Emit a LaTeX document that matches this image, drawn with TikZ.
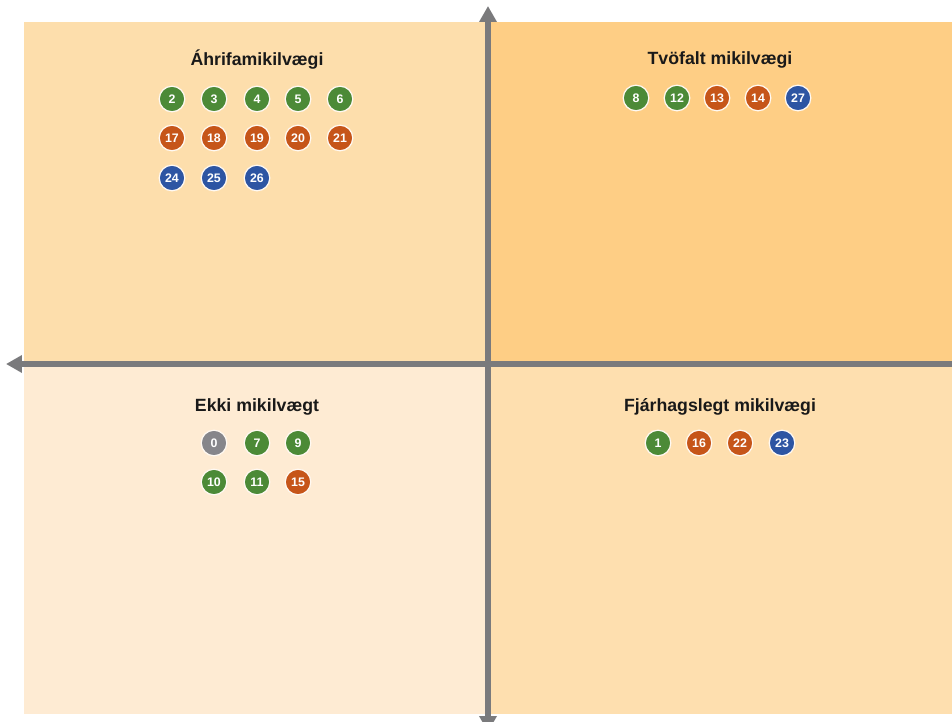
\documentclass[tikz,border=0pt]{standalone}
\usepackage{fontspec}
\setmainfont{Liberation Sans}
\usepackage{tikz}
\usetikzlibrary{arrows.meta, positioning}
\usepackage{xcolor}

\definecolor{qtl}{HTML}{FDDEAC}
\definecolor{qtr}{HTML}{FECE85}
\definecolor{qbl}{HTML}{FEEBD3}
\definecolor{qbr}{HTML}{FEDFAF}
\definecolor{dgreen}{HTML}{4C8A37}
\definecolor{dorange}{HTML}{C65519}
\definecolor{dblue}{HTML}{2D55A3}
\definecolor{dgray}{HTML}{86868B}
\definecolor{axisgray}{HTML}{7A7A7C}

\begin{document}
\begin{tikzpicture}[
    dot/.style={circle, draw=white!95!orange, line width=0.9pt, minimum size=0.64cm,
                inner sep=0pt, text=white, font=\fontsize{8.8}{10}\selectfont\bfseries},
    gdot/.style={dot, fill=dgreen},
    odot/.style={dot, fill=dorange},
    bdot/.style={dot, fill=dblue},
    ndot/.style={dot, fill=dgray},
    qtitle/.style={font=\fontsize{12.6}{15}\selectfont\bfseries, text=black!90},
    axis/.style={line width=4pt, axisgray},
]
  \useasboundingbox (0,0) rectangle (23.8,-18.05);

  % Quadrant backgrounds
  \fill[qtl] (0.6,-0.55) rectangle (12.15,-9.05);
  \fill[qtr] (12.25,-0.55) rectangle (23.8,-9.05);
  \fill[qbl] (0.6,-9.15) rectangle (12.15,-17.85);
  \fill[qbr] (12.25,-9.15) rectangle (23.8,-17.85);

  % Axes
  \coordinate (top) at (12.2,-0.15);
  \coordinate (bottom) at (12.2,-18.3);
  \coordinate (left) at (0.15,-9.1);
  \coordinate (right) at (23.8,-9.1);
  \draw[axis, {Triangle[length=0.4cm, width=0.42cm]}-{Triangle[length=0.4cm, width=0.42cm]}]
    (bottom) -- (top);
  \draw[axis, {Triangle[length=0.4cm, width=0.42cm]}-] (left) -- (right);

  % Top left
  \node[qtitle] (tlt) at (6.425,-1.5) {Áhrifamikilvægi};
  \node[gdot] (n2)  at (4.3,  -2.475) {2};
  \node[gdot] (n3)  at (5.35, -2.475) {3};
  \node[gdot] (n4)  at (6.425,-2.475) {4};
  \node[gdot] (n5)  at (7.45, -2.475) {5};
  \node[gdot] (n6)  at (8.5,  -2.475) {6};
  \node[odot] (n17) at (4.3,  -3.45) {17};
  \node[odot] (n18) at (5.35, -3.45) {18};
  \node[odot] (n19) at (6.425,-3.45) {19};
  \node[odot] (n20) at (7.45, -3.45) {20};
  \node[odot] (n21) at (8.5,  -3.45) {21};
  \node[bdot] (n24) at (4.3,  -4.45) {24};
  \node[bdot] (n25) at (5.35, -4.45) {25};
  \node[bdot] (n26) at (6.425,-4.45) {26};

  % Top right
  \node[qtitle] (trt) at (18.0,-1.5) {Tvöfalt mikilvægi};
  \node[gdot] (n8)  at (15.9,  -2.45) {8};
  \node[gdot] (n12) at (16.925,-2.45) {12};
  \node[odot] (n13) at (17.925,-2.45) {13};
  \node[odot] (n14) at (18.95, -2.45) {14};
  \node[bdot] (n27) at (19.95, -2.45) {27};

  % Bottom left
  \node[qtitle] (blt) at (6.425,-10.175) {Ekki mikilvægt};
  \node[ndot] (n0)  at (5.35, -11.075) {0};
  \node[gdot] (n7)  at (6.425,-11.075) {7};
  \node[gdot] (n9)  at (7.45, -11.075) {9};
  \node[gdot] (n10) at (5.35, -12.05) {10};
  \node[gdot] (n11) at (6.425,-12.05) {11};
  \node[odot] (n15) at (7.45, -12.05) {15};

  % Bottom right
  \node[qtitle] (brt) at (18.0,-10.175) {Fjárhagslegt mikilvægi};
  \node[gdot] (n1)  at (16.45,-11.075) {1};
  \node[odot] (n16) at (17.475,-11.075) {16};
  \node[odot] (n22) at (18.5, -11.075) {22};
  \node[bdot] (n23) at (19.55,-11.075) {23};

\end{tikzpicture}
\end{document}
